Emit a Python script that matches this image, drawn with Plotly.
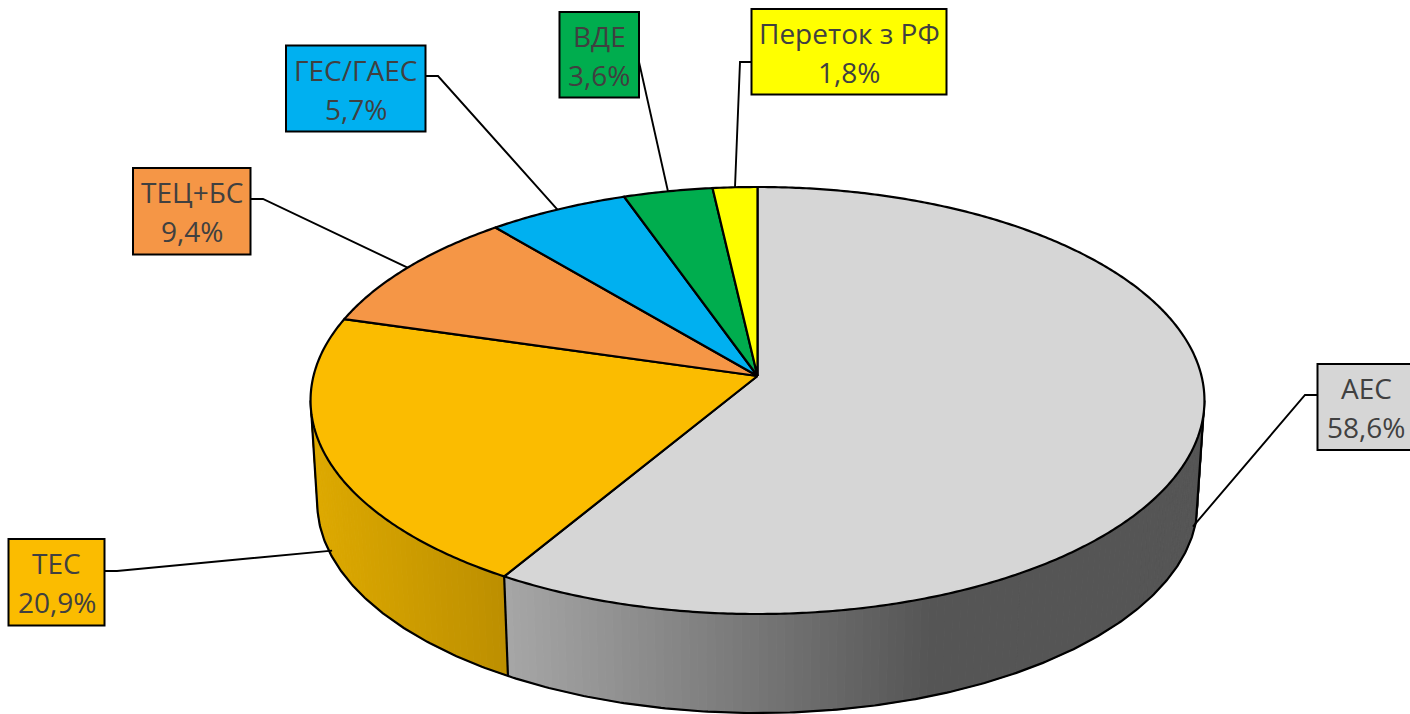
import math
import plotly.graph_objects as go

# ---- data ----
CATEGORIES = ["АЕС", "ТЕС", "ТЕЦ+БС", "ГЕС/ГАЕС", "ВДЕ", "Переток з РФ"]
SHARES = [58.6, 20.9, 9.4, 5.7, 3.6, 1.8]

# ---- styles / layout ----
W, H = 1410, 714
COLORS = ["#D6D6D6", "#FBBC00", "#F59646", "#00B0F0", "#00AD4E", "#FFFF00"]
SIDE_SHADE = {
    0: ((508, (166, 166, 166)), (930, (85, 85, 85))),
    1: ((318, (221, 169, 0)), (503, (189, 143, 0))),
}
BOXES = [  # x0, x1, y0, y1 of each label box
    (1317.5, 1420, 364, 450),
    (8.5, 104.5, 539, 625.5),
    (133, 250.5, 168, 254.5),
    (286, 425.5, 45.5, 131.5),
    (559.5, 639, 12, 97.5),
    (751.5, 946.5, 9, 94.5),
]
ELBOWS = [
    ((1317.5, 395), (1305, 395)),
    ((104.5, 571), (117, 571)),
    ((250.5, 199), (263, 199)),
    ((425.5, 76), (438, 76)),
    ((639, 62), (639, 62)),
    ((751.5, 62), (740, 62)),
]
LEADER_DEPTH = [0.91, 0.93, 0, 0, 0, 0]
TEXT_X = [1366, 56.5, 191.5, 355.5, 599, 849]

CX, APEX_Y, APEX_Y_BOTTOM = 757.5, 376.0, 478.6
B, A, K, BOTTOM_SCALE = 444.0, 210.7, 0.1148, 0.985
TANGENT_R, TANGENT_L = 96.6, 263.4
EDGE = 2.2
LEADER = 1.9


def top_pt(deg):
    t = math.radians(deg)
    u, v = math.sin(t), math.cos(t)
    d = 1 + K * v
    return CX + B * u / d, APEX_Y - A * v / d


def bot_pt(deg):
    x, y = top_pt(deg)
    return CX + BOTTOM_SCALE * (x - CX), APEX_Y_BOTTOM + BOTTOM_SCALE * (y - APEX_Y)


def frange(a, b, step=0.5):
    n = max(2, int(abs(b - a) / step) + 1)
    return [a + (b - a) * i / (n - 1) for i in range(n)]


def shade(idx, x):
    (x0, c0), (x1, c1) = SIDE_SHADE[idx]
    f = min(1, max(0, (x - x0) / (x1 - x0)))
    r, g, b = [round(c0[i] + (c1[i] - c0[i]) * f) for i in range(3)]
    return f"rgb({r},{g},{b})"


total = sum(SHARES)
starts, ends = [], []
acc = 0.0
for s in SHARES:
    starts.append(acc / total * 360)
    acc += s
    ends.append(acc / total * 360)

fig = go.Figure()
common = dict(mode="lines", hoverinfo="skip", showlegend=False)

# side wall: thin vertical strips coloured by horizontal position
for i in SIDE_SHADE:
    a0 = max(starts[i], TANGENT_R)
    a1 = min(ends[i], TANGENT_L)
    if a0 >= a1:
        continue
    grid = frange(a0, a1, 1.0)
    for p, q in zip(grid[:-1], grid[1:]):
        xs = [top_pt(p)[0], top_pt(q)[0], bot_pt(q)[0], bot_pt(p)[0], top_pt(p)[0]]
        ys = [top_pt(p)[1], top_pt(q)[1], bot_pt(q)[1], bot_pt(p)[1], top_pt(p)[1]]
        col = shade(i, sum(xs[:4]) / 4)
        fig.add_trace(go.Scatter(x=xs, y=ys, fill="toself", fillcolor=col,
                                 line=dict(color=col, width=1), **common))

# side wall outline
grid = frange(TANGENT_R, TANGENT_L, 0.5)
edge_x = [top_pt(TANGENT_R)[0]] + [bot_pt(a)[0] for a in grid] + [top_pt(TANGENT_L)[0]]
edge_y = [top_pt(TANGENT_R)[1]] + [bot_pt(a)[1] for a in grid] + [top_pt(TANGENT_L)[1]]
fig.add_trace(go.Scatter(x=edge_x, y=edge_y, line=dict(color="#000000", width=EDGE), **common))
for i, e in enumerate(ends):
    if TANGENT_R < e < TANGENT_L:
        fig.add_trace(go.Scatter(x=[top_pt(e)[0], bot_pt(e)[0]], y=[top_pt(e)[1], bot_pt(e)[1]],
                                 line=dict(color="#000000", width=EDGE), **common))

# top face slices
for i in range(len(SHARES)):
    pts = [top_pt(a) for a in frange(starts[i], ends[i], 0.5)]
    xs = [CX] + [p[0] for p in pts] + [CX]
    ys = [APEX_Y] + [p[1] for p in pts] + [APEX_Y]
    fig.add_trace(go.Scatter(x=xs, y=ys, fill="toself", fillcolor=COLORS[i],
                             line=dict(color="#000000", width=EDGE, simplify=False), **common))

# leader lines, ending at the middle of each slice
for i in range(len(SHARES)):
    mid = (starts[i] + ends[i]) / 2
    tx, ty = top_pt(mid)
    bx, by = bot_pt(mid)
    d = LEADER_DEPTH[i]
    ex, ey = tx + (bx - tx) * d, ty + (by - ty) * d
    (sx, sy), (kx, ky) = ELBOWS[i]
    fig.add_trace(go.Scatter(x=[sx, kx, ex], y=[sy, ky, ey],
                             line=dict(color="#000000", width=LEADER), **common))

shapes = []
annotations = []
font = dict(family="Open Sans", size=28, color="#404040")
for i, (x0, x1, y0, y1) in enumerate(BOXES):
    shapes.append(dict(type="rect", xref="x", yref="y", x0=x0, x1=x1, y0=y0, y1=y1,
                       fillcolor=COLORS[i], line=dict(color="#000000", width=2), layer="above"))
    pct = f"{SHARES[i]:.1f}".replace(".", ",") + "%"
    mid_y = (y0 + y1) / 2
    for text, dy in ((CATEGORIES[i], -19), (pct, 20)):
        annotations.append(dict(x=TEXT_X[i], y=mid_y + dy, xref="x", yref="y",
                                text=text, showarrow=False,
                                xanchor="center", yanchor="middle", align="center",
                                font=font))

fig.update_layout(
    width=W, height=H, margin=dict(l=0, r=0, t=0, b=0),
    paper_bgcolor="white", plot_bgcolor="white", showlegend=False,
    xaxis=dict(range=[0, W], visible=False, fixedrange=True),
    yaxis=dict(range=[H, 0], visible=False, fixedrange=True),
    shapes=shapes, annotations=annotations,
)
fig.write_html("out.html", config={"displayModeBar": False},
               post_script="document.body.style.margin='0';document.body.style.overflow='hidden';")
